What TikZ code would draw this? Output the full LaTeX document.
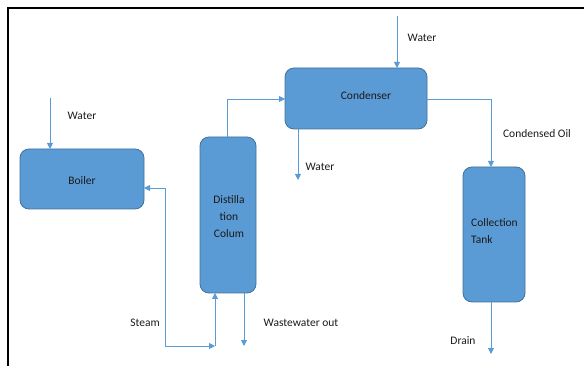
\documentclass[tikz,border=0pt]{standalone}
\usepackage{fontspec}
\setmainfont{Carlito}
\usetikzlibrary{arrows.meta}
\definecolor{boxfill}{HTML}{5B9BD5}
\definecolor{boxline}{HTML}{41719C}
\definecolor{arrcol}{HTML}{5B9BD5}
\definecolor{txt}{HTML}{1A1A1A}
\begin{document}
\begin{tikzpicture}[x=1pt,y=-1pt,
  unit/.style={draw=boxline,fill=boxfill,rounded corners=9pt,line width=0.8pt,inner sep=0pt},
  arr/.style={draw=arrcol,line width=0.9pt,-{Triangle[length=6pt,width=6pt]}},
  ln/.style={draw=arrcol,line width=0.9pt},
  lbl/.style={font=\fontsize{11.5}{17}\selectfont,text=txt,inner sep=0pt}]
\useasboundingbox (0,0) rectangle (584,366);
% frame
\draw[line width=2.2pt,black] (584,8) -- (8,8) -- (8,366);
% units
\draw[unit] (20,149) rectangle (144,209);
\node[lbl] (boiler) at (82,181) {Boiler};
\draw[unit] (200,137) rectangle (256,293);
\node[lbl,align=center] (dist) at (229,217) {Distilla\\tion\\Colum};
\draw[unit] (285,68) rectangle (427,129);
\node[lbl] (cond) at (366,96) {Condenser};
\draw[unit] (463,167) rectangle (525,302);
\node[lbl,align=left,anchor=west] (tank) at (471,231) {Collection\\Tank};
% coordinates
\coordinate (bw0) at (50,98);
\coordinate (bw1) at (50,149);
\coordinate (cw0) at (397,16);
\coordinate (cw1) at (397,68);
\coordinate (dtop) at (227,137);
\coordinate (ctin) at (285,99);
\coordinate (cbot) at (298,129);
\coordinate (cwout) at (298,180);
\coordinate (cright) at (427,99);
\coordinate (ttop) at (491,167);
\coordinate (tbot) at (491,302);
\coordinate (drain) at (491,354);
\coordinate (bin) at (144,188);
\coordinate (s0) at (165,188);
\coordinate (s1) at (165,346);
\coordinate (s2) at (215,346);
\coordinate (dbot) at (215,293);
\coordinate (wbot) at (244,293);
\coordinate (wout) at (244,346);
% connectors
\draw[arr] (bw0) -- (bw1);
\draw[arr] (cw0) -- (cw1);
\draw[arr] (dtop) |- (ctin);
\draw[arr] (cbot) -- (cwout);
\draw[arr] (cright) -| (ttop);
\draw[arr] (tbot) -- (drain);
\draw[arr] (s0) -- (bin);
\draw[ln] (s0) -- (s1);
\draw[arr] (s1) -- (s2);
\draw[arr] (s2) -- (dbot);
\draw[arr] (wbot) -- (wout);
% labels
\node[lbl] (l1) at (82,116) {Water};
\node[lbl] (l2) at (422,38) {Water};
\node[lbl] (l3) at (320,167) {Water};
\node[lbl] (l4) at (537,134) {Condensed Oil};
\node[lbl] (l5) at (145,323) {Steam};
\node[lbl] (l6) at (301,323) {Wastewater out};
\node[lbl] (l7) at (463,341) {Drain};
\end{tikzpicture}
\end{document}
